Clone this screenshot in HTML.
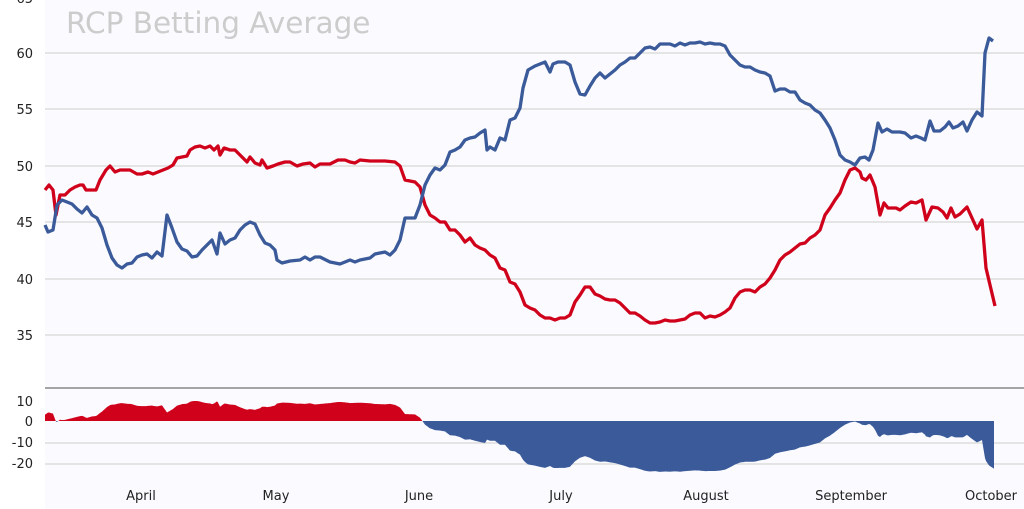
<!DOCTYPE html>
<html><head><meta charset="utf-8"><style>
html,body{margin:0;padding:0;background:#fff;}
svg{display:block;font-family:"DejaVu Sans","Liberation Sans",sans-serif;}
</style></head><body>
<svg id="s" width="1024" height="509" xmlns="http://www.w3.org/2000/svg">
<rect x="45" y="0" width="979" height="509" fill="#fafaff"/>
<g stroke="#dcdcdc" stroke-width="1.5">
<line x1="45" x2="1024" y1="53" y2="53"/><line x1="45" x2="1024" y1="109" y2="109"/>
<line x1="45" x2="1024" y1="166" y2="166"/><line x1="45" x2="1024" y1="222" y2="222"/>
<line x1="45" x2="1024" y1="279" y2="279"/><line x1="45" x2="1024" y1="335" y2="335"/>
<line x1="45" x2="1024" y1="443" y2="443"/><line x1="45" x2="1024" y1="464" y2="464"/>
</g>
<line x1="45" x2="1024" y1="388" y2="388" stroke="#888" stroke-width="1.5"/>
<text x="66" y="33" font-size="29.5" fill="#cccccc">RCP Betting Average</text>
<g font-size="13" fill="#222" text-anchor="end">
<text x="33" y="3">65</text><text x="33" y="58">60</text><text x="33" y="114">55</text>
<text x="33" y="171">50</text><text x="33" y="227">45</text><text x="33" y="284">40</text>
<text x="33" y="340">35</text>
<text x="33" y="406">10</text><text x="33" y="426">0</text><text x="33" y="447">-10</text><text x="33" y="468">-20</text>
</g>
<g font-size="13" fill="#222" text-anchor="middle">
<text x="141" y="500">April</text><text x="276" y="500">May</text><text x="419" y="500">June</text>
<text x="561" y="500">July</text><text x="706" y="500">August</text><text x="851" y="500">September</text><text x="991" y="500">October</text>
</g>
<defs>
<clipPath id="up"><rect x="0" y="0" width="1024" height="421"/></clipPath>
<clipPath id="dn"><rect x="0" y="421" width="1024" height="88"/></clipPath>
</defs>
<g id="area"></g>
<polyline id="red" fill="none" stroke="#d0021b" stroke-width="3.3" stroke-linejoin="round"/>
<polyline id="blue" fill="none" stroke="#3a5a9a" stroke-width="3.3" stroke-linejoin="round"/>
</svg>
<script>
var B=[[45,225],[48,232],[53,230],[57,205],[62,200],[67,202],[72,204],[77,209],[82,213],[87,207],[92,215],[97,218],[102,228],[107,245],[112,258],[117,265],[122,268],[127,264],[132,263],[137,257],[142,255],[147,254],[152,258],[157,252],[162,256],[167,215],[172,228],[177,242],[182,249],[187,251],[192,257],[197,256],[202,250],[207,245],[212,240],[217,254],[220,233],[225,244],[230,240],[235,238],[240,230],[245,225],[250,222],[255,224],[260,235],[265,243],[270,245],[275,250],[277,260],[282,263],[290,261],[300,260],[305,257],[310,260],[315,257],[320,257],[330,262],[340,264],[350,260],[355,262],[360,260],[370,258],[375,254],[385,252],[390,255],[395,250],[400,240],[405,218],[415,218],[420,205],[425,185],[430,175],[435,168],[440,170],[445,165],[450,152],[455,150],[460,147],[465,140],[470,138],[475,137],[480,133],[485,130],[487,150],[490,147],[495,150],[500,138],[505,140],[510,120],[515,118],[520,108],[523,88],[528,70],[535,66],[540,64],[545,62],[550,72],[553,64],[558,62],[565,62],[570,65],[575,82],[580,94],[585,95],[590,86],[595,78],[600,73],[605,78],[610,74],[615,70],[620,65],[625,62],[630,58],[635,58],[640,53],[645,48],[650,47],[655,49],[660,44],[665,44],[670,44],[675,46],[680,43],[685,45],[690,43],[695,43],[700,42],[705,44],[710,43],[715,44],[720,44],[725,46],[730,55],[735,60],[740,65],[745,67],[750,67],[755,70],[760,72],[765,73],[770,76],[775,91],[780,89],[785,89],[790,92],[795,92],[800,100],[805,103],[810,105],[815,110],[820,113],[825,120],[830,128],[835,140],[840,155],[845,160],[850,162],[855,165],[860,158],[865,157],[869,160],[873,150],[878,123],[882,132],[887,129],[892,132],[900,132],[905,133],[911,138],[916,136],[921,138],[925,140],[930,121],[934,131],[940,131],[945,127],[949,122],[953,128],[958,126],[963,122],[967,131],[972,120],[977,112],[982,116],[985,53],[989,38],[993,41]];
var R=[[45,190],[49,185],[53,190],[56,215],[60,195],[65,195],[70,190],[75,187],[80,185],[83,185],[86,190],[90,190],[96,190],[100,180],[106,170],[110,166],[115,172],[120,170],[130,170],[137,174],[142,174],[148,172],[153,174],[158,172],[163,170],[168,168],[173,165],[177,158],[182,157],[187,156],[190,150],[195,147],[200,146],[205,148],[210,146],[214,150],[218,146],[220,155],[224,148],[230,150],[235,150],[240,155],[245,160],[247,162],[250,157],[255,163],[260,165],[262,160],[267,168],[273,166],[278,164],[285,162],[290,162],[297,166],[303,164],[310,163],[315,167],[320,164],[330,164],[338,160],[345,160],[350,162],[355,163],[360,160],[370,161],[385,161],[395,162],[400,166],[405,180],[415,182],[420,187],[425,205],[430,215],[435,218],[440,222],[445,222],[450,230],[455,230],[460,235],[465,242],[470,238],[475,245],[480,248],[485,250],[490,255],[495,258],[500,268],[505,270],[510,282],[515,284],[520,292],[525,305],[530,308],[535,310],[540,315],[545,318],[550,318],[555,320],[560,318],[565,318],[570,315],[575,302],[580,295],[585,287],[590,287],[595,294],[600,296],[605,299],[610,300],[615,300],[620,303],[625,308],[630,313],[635,313],[640,316],[645,320],[650,323],[655,323],[660,322],[665,320],[670,321],[675,321],[680,320],[685,319],[690,315],[695,313],[700,313],[705,318],[710,316],[715,317],[720,315],[725,312],[730,308],[735,298],[740,292],[745,290],[750,290],[755,292],[760,287],[765,284],[770,278],[775,270],[780,260],[785,255],[790,252],[795,248],[800,244],[805,243],[810,238],[815,235],[820,230],[825,215],[830,208],[835,200],[840,193],[845,180],[850,170],[855,168],[860,172],[862,178],[866,180],[870,175],[875,187],[880,215],[884,203],[888,208],[896,208],[900,210],[905,206],[911,202],[916,203],[922,200],[926,220],[932,207],[938,208],[943,212],[947,218],[951,208],[955,217],[960,214],[967,207],[972,218],[977,229],[982,220],[986,268],[990,285],[995,306]];
function s(a){return a.map(function(p){return p[0]+","+p[1]}).join(" ")}
document.getElementById("red").setAttribute("points",s(R));
document.getElementById("blue").setAttribute("points",s(B));
function it(a,x){for(var i=1;i<a.length;i++){if(a[i][0]>=x){var t=(x-a[i-1][0])/(a[i][0]-a[i-1][0]);return a[i-1][1]+t*(a[i][1]-a[i-1][1]);}}return a[a.length-1][1];}
var pts=[[45,421]];
for(var x=45;x<=994;x+=1){var d=(it(B,x)-it(R,x))*0.183;pts.push([x,421-d]);}
pts.push([994,421]);
var p=s(pts),ns="http://www.w3.org/2000/svg",g=document.getElementById("area");
[["#d0021b","url(#up)"],["#3a5a9a","url(#dn)"]].forEach(function(c){var e=document.createElementNS(ns,"polygon");e.setAttribute("points",p);e.setAttribute("fill",c[0]);e.setAttribute("clip-path",c[1]);g.appendChild(e);});
</script>
</body></html>
